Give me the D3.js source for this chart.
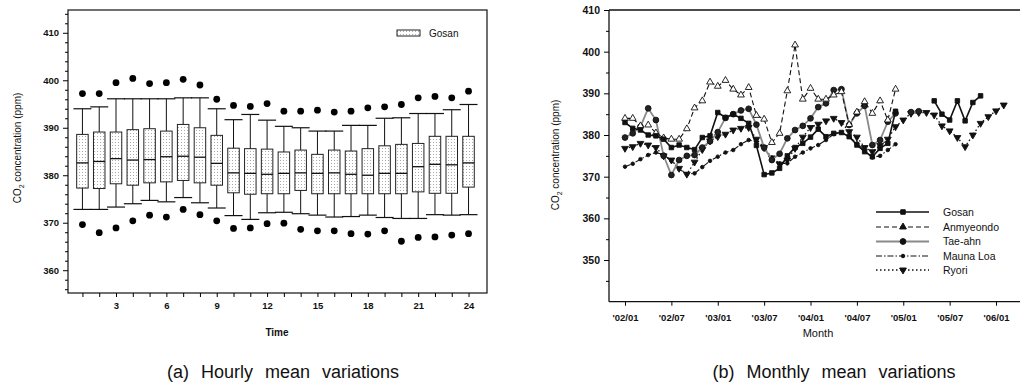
<!DOCTYPE html>
<html>
<head>
<meta charset="utf-8">
<script src="https://cdn.jsdelivr.net/npm/d3@7"></script>
<style>
  body { margin: 0; background: #fff; }
  text { font-family: "Liberation Sans", Arial, sans-serif; fill: #111; }
</style>
</head>
<body>
<div id="chart"></div>
<script>
// ---- (a) hourly box plot data (Gosan) ----
var hours = [1,2,3,4,5,6,7,8,9,10,11,12,13,14,15,16,17,18,19,20,21,22,23,24];
var whiskerHigh = [394.0,394.4,396.1,396.1,396.1,396.1,396.3,396.3,394.0,391.7,392.8,391.6,390.3,390.0,389.3,389.3,390.5,390.5,392.0,392.1,393.0,393.0,393.8,394.9];
var q3 = [388.6,389.1,389.1,389.6,389.8,389.3,390.7,390.0,388.4,385.7,385.6,385.5,384.9,385.3,384.4,385.3,385.1,385.6,386.2,386.5,386.7,388.2,388.2,388.2];
var median = [382.6,382.9,383.5,383.2,383.3,383.9,384.0,383.8,382.5,380.5,380.4,380.2,380.4,380.5,380.4,380.5,380.2,380.0,380.4,380.4,381.8,382.3,382.2,382.6];
var q1 = [377.3,377.2,378.2,377.9,378.4,378.6,378.9,378.4,377.9,376.3,376.0,376.1,376.1,376.8,376.1,376.1,376.1,376.1,376.1,376.1,376.5,376.2,376.2,377.5];
var whiskerLow = [372.8,372.8,373.3,374.0,374.7,374.4,375.3,374.2,373.1,371.5,370.7,372.1,372.2,371.9,371.6,371.2,371.3,371.6,371.1,370.9,370.9,371.7,371.6,371.7];
var outHigh = [397.2,397.2,399.5,400.4,399.3,399.5,400.2,399.0,396.0,394.7,394.5,395.1,393.5,393.5,393.7,393.3,393.5,394.2,394.4,394.9,396.3,396.6,396.3,397.7];
var outLow = [369.6,367.9,368.9,370.4,371.6,371.2,372.8,371.7,370.4,368.8,368.9,369.8,369.9,368.6,368.3,368.3,367.7,367.6,368.3,366.1,366.9,367.0,367.4,367.7];
var hourTicks = [3,6,9,12,15,18,21,24];
var ppmTicksA = [360,370,380,390,400,410];

// ---- (b) monthly means, index 0 = 2002/01 ----
var monthTicks = [0,6,12,18,24,30,36,42,48];
var monthLabels = ["'02/01","'02/07","'03/01","'03/07","'04/01","'04/07","'05/01","'05/07","'06/01"];
var ppmTicksB = [340,350,360,370,380,390,400,410];
var gosan = [383.0,381.6,381.2,380.0,379.8,379.0,377.0,377.6,377.0,376.5,379.4,379.8,
  385.4,384.2,385.0,384.0,382.8,377.5,370.5,370.9,372.0,375.0,377.0,378.0,
  379.5,381.4,379.6,380.4,380.6,379.6,377.6,376.0,374.8,376.8,378.0,385.7,
  null,null,null,null,388.2,385.0,383.6,388.2,383.4,387.8,389.4];
var anmyeondo = [384.0,384.0,382.2,382.4,380.5,379.3,379.0,379.0,381.5,386.5,388.2,392.7,
  391.7,393.1,391.0,389.6,391.4,384.7,383.8,378.2,380.4,390.6,401.6,388.6,
  391.2,388.6,388.6,389.6,390.4,382.5,385.5,388.0,385.2,388.2,383.6,391.0];
var taeahn = [379.4,380.4,382.0,386.4,383.6,375.0,370.4,374.0,375.0,375.2,377.0,378.5,
  380.7,384.1,385.0,385.9,386.3,382.5,377.0,374.0,375.5,379.2,381.2,382.2,
  384.0,386.7,387.6,390.8,391.0,382.4,385.2,387.0,377.6,378.8,383.2,385.2,
  null,385.5,385.7];
var maunaLoa = [372.4,373.1,374.2,375.2,375.8,375.3,373.8,371.8,370.6,370.8,372.3,373.8,
  374.8,375.8,376.4,377.8,378.8,378.4,376.6,374.6,373.2,373.2,374.8,375.8,
  376.8,377.6,378.8,380.2,380.6,379.6,378.0,376.2,374.6,375.0,376.4,377.8];
var ryori = [376.8,377.2,378.0,377.6,377.0,375.0,374.0,372.0,370.6,373.5,376.5,378.6,
  379.6,380.2,381.2,381.6,381.8,379.0,377.0,374.5,373.0,374.0,376.8,379.5,
  381.8,382.6,383.4,384.0,383.0,380.8,379.5,377.0,376.0,377.5,379.0,382.0,
  383.6,385.2,385.4,385.4,384.8,382.2,381.0,379.4,377.2,380.0,382.8,384.4,385.8,387.2];
var seriesNames = ["Gosan","Anmyeondo","Tae-ahn","Mauna Loa","Ryori"];

var svg = d3.select("#chart").append("svg")
  .attr("width", 1023).attr("height", 384);

// stipple pattern for boxes
var pat = svg.append("defs").append("pattern")
  .attr("id", "stip").attr("width", 3).attr("height", 3)
  .attr("patternUnits", "userSpaceOnUse");
pat.append("rect").attr("width", 3).attr("height", 3).attr("fill", "#fff");
pat.append("rect").attr("x", 1).attr("y", 1).attr("width", 1).attr("height", 1).attr("fill", "#aaa");

// ================= (a) =================
var xA = d3.scaleLinear().domain([0.14, 25.1]).range([68, 487]);
var yA = d3.scaleLinear().domain([355.2, 414.8]).range([293, 10]);

var gA = svg.append("g");
gA.append("rect").attr("x", 68).attr("y", 10).attr("width", 419).attr("height", 283)
  .attr("fill", "none").attr("stroke", "#111").attr("stroke-width", 1.2);

gA.append("g").attr("transform", "translate(0,293)")
  .call(d3.axisBottom(xA).tickValues(hours).tickSize(4).tickFormat(d => hourTicks.includes(d) ? d : ""))
  .call(g => g.select(".domain").remove())
  .call(g => g.selectAll("text").attr("font-size", 9.5).attr("font-weight", "bold").attr("dy", "0.95em"));

gA.append("g").attr("transform", "translate(68,0)")
  .call(d3.axisLeft(yA).tickValues(d3.range(356, 415, 2)).tickSize(3).tickFormat(d => ppmTicksA.includes(d) ? d : ""))
  .call(g => g.select(".domain").remove())
  .call(g => g.selectAll(".tick").filter(d => ppmTicksA.includes(d)).select("line").attr("x2", -5))
  .call(g => g.selectAll("text").attr("font-size", 9.5).attr("font-weight", "bold").attr("x", -9));

var bw = 11.5;
var boxes = gA.selectAll(".box").data(hours).enter().append("g").attr("class", "box");
boxes.append("line")
  .attr("x1", d => xA(d)).attr("x2", d => xA(d))
  .attr("y1", (d, i) => yA(whiskerHigh[i])).attr("y2", (d, i) => yA(whiskerLow[i]))
  .attr("stroke", "#111").attr("stroke-width", 1);
boxes.append("line")
  .attr("x1", d => xA(d) - 9).attr("x2", d => xA(d) + 9)
  .attr("y1", (d, i) => yA(whiskerHigh[i])).attr("y2", (d, i) => yA(whiskerHigh[i]))
  .attr("stroke", "#111").attr("stroke-width", 1.2);
boxes.append("line")
  .attr("x1", d => xA(d) - 9).attr("x2", d => xA(d) + 9)
  .attr("y1", (d, i) => yA(whiskerLow[i])).attr("y2", (d, i) => yA(whiskerLow[i]))
  .attr("stroke", "#111").attr("stroke-width", 1.2);
boxes.append("rect")
  .attr("x", d => xA(d) - bw / 2).attr("width", bw)
  .attr("y", (d, i) => yA(q3[i])).attr("height", (d, i) => yA(q1[i]) - yA(q3[i]))
  .attr("fill", "url(#stip)").attr("stroke", "#222").attr("stroke-width", 1);
boxes.append("line")
  .attr("x1", d => xA(d) - bw / 2).attr("x2", d => xA(d) + bw / 2)
  .attr("y1", (d, i) => yA(median[i])).attr("y2", (d, i) => yA(median[i]))
  .attr("stroke", "#111").attr("stroke-width", 1.3);
boxes.append("circle").attr("cx", d => xA(d)).attr("cy", (d, i) => yA(outHigh[i])).attr("r", 3.4).attr("fill", "#000");
boxes.append("circle").attr("cx", d => xA(d)).attr("cy", (d, i) => yA(outLow[i])).attr("r", 3.4).attr("fill", "#000");

// legend (a)
gA.append("rect").attr("x", 397).attr("y", 30).attr("width", 23).attr("height", 6)
  .attr("fill", "url(#stip)").attr("stroke", "#222");
gA.append("text").attr("x", 429).attr("y", 37).attr("font-size", 10).text("Gosan");

gA.append("text").attr("x", 277).attr("y", 336).attr("text-anchor", "middle")
  .attr("font-size", 10).attr("font-weight", "bold").text("Time");
var ylA = gA.append("text").attr("transform", "translate(21,148) rotate(-90)")
  .attr("text-anchor", "middle").attr("font-size", 10);
ylA.append("tspan").text("CO");
ylA.append("tspan").attr("font-size", 7).attr("dy", 3).text("2");
ylA.append("tspan").attr("dy", -3).text(" concentration (ppm)");
gA.append("text").attr("x", 283).attr("y", 378).attr("text-anchor", "middle")
  .attr("font-size", 18).attr("fill", "#333").attr("word-spacing", 7).text("(a) Hourly mean variations");

// ================= (b) =================
var xB = d3.scaleLinear().domain([-2.07, 51.1]).range([609, 1020]);
var yB = d3.scaleLinear().domain([340, 410]).range([301.7, 10]);
var gB = svg.append("g");

gB.append("line").attr("x1", 609).attr("x2", 1020).attr("y1", 10).attr("y2", 10).attr("stroke", "#111").attr("stroke-width", 1.3);
gB.append("line").attr("x1", 609).attr("x2", 1020).attr("y1", 301.7).attr("y2", 301.7).attr("stroke", "#111").attr("stroke-width", 1.3);
gB.append("line").attr("x1", 609).attr("x2", 609).attr("y1", 10).attr("y2", 301.7).attr("stroke", "#111").attr("stroke-width", 1.3);

gB.append("g").attr("transform", "translate(0,301.7)")
  .call(d3.axisBottom(xB).tickValues(monthTicks).tickSize(4).tickFormat((d, i) => monthLabels[i]))
  .call(g => g.select(".domain").remove())
  .call(g => g.selectAll("text").attr("font-size", 9.5).attr("font-weight", "bold").attr("dy", "1.3em"));

gB.append("g").attr("transform", "translate(609,0)")
  .call(d3.axisLeft(yB).tickValues(d3.range(345, 411, 5)).tickSize(3).tickFormat(d => ppmTicksB.includes(d) ? d : ""))
  .call(g => g.select(".domain").remove())
  .call(g => g.selectAll(".tick").filter(d => ppmTicksB.includes(d)).select("line").attr("x2", -5))
  .call(g => g.selectAll("text").attr("font-size", 10.5).attr("font-weight", "bold").attr("x", -9));

var line = d3.line().defined(d => d != null).x((d, i) => xB(i)).y(d => yB(d));
var styles = [
  { data: gosan, stroke: "#111", width: 1.6, dash: null, sym: d3.symbolSquare, size: 20, fill: "#111" },
  { data: anmyeondo, stroke: "#111", width: 1.1, dash: "5,3", sym: d3.symbolTriangle, size: 20, fill: "#fff" },
  { data: taeahn, stroke: "#8a8a8a", width: 1.8, dash: null, sym: d3.symbolCircle, size: 26, fill: "#222" },
  { data: maunaLoa, stroke: "#111", width: 1.1, dash: "6,2,1.5,2", sym: d3.symbolCircle, size: 10, fill: "#111" },
  { data: ryori, stroke: "#111", width: 1.3, dash: "1.5,2.5", sym: d3.symbolTriangle, size: 20, fill: "#111" }
];
var order = [3, 4, 2, 1, 0];
order.forEach(function(k) {
  var s = styles[k];
  gB.append("path").datum(s.data).attr("d", line)
    .attr("fill", "none").attr("stroke", s.stroke).attr("stroke-width", s.width)
    .attr("stroke-dasharray", s.dash);
  var pts = s.data.map((v, i) => ({ v: v, i: i })).filter(p => p.v != null);
  gB.selectAll(null).data(pts).enter().append("path")
    .attr("d", d3.symbol().type(s.sym).size(s.size))
    .attr("transform", p => `translate(${xB(p.i)},${yB(p.v)})` + (k === 4 ? " rotate(180)" : ""))
    .attr("fill", s.fill).attr("stroke", "#111").attr("stroke-width", 0.9);
});

// legend (b)
var legY = [212, 227, 241.5, 256, 270];
seriesNames.forEach(function(name, k) {
  var s = styles[k];
  gB.append("line").attr("x1", 876).attr("x2", 929).attr("y1", legY[k]).attr("y2", legY[k])
    .attr("stroke", s.stroke).attr("stroke-width", s.width).attr("stroke-dasharray", s.dash);
  gB.append("path").attr("d", d3.symbol().type(s.sym).size(s.size))
    .attr("transform", `translate(903,${legY[k]})` + (k === 4 ? " rotate(180)" : ""))
    .attr("fill", "#111").attr("stroke", "#111");
  gB.append("text").attr("x", 943).attr("y", legY[k] + 3.5).attr("font-size", 10.5).text(name);
});

gB.append("text").attr("x", 818).attr("y", 337).attr("text-anchor", "middle")
  .attr("font-size", 11).text("Month");
var ylB = gB.append("text").attr("transform", "translate(559,155) rotate(-90)")
  .attr("text-anchor", "middle").attr("font-size", 10);
ylB.append("tspan").text("CO");
ylB.append("tspan").attr("font-size", 7).attr("dy", 3).text("2");
ylB.append("tspan").attr("dy", -3).text(" concentration (ppm)");
gB.append("text").attr("x", 834).attr("y", 378).attr("text-anchor", "middle")
  .attr("font-size", 18).attr("fill", "#333").attr("word-spacing", 7).text("(b) Monthly mean variations");
</script>
</body>
</html>
